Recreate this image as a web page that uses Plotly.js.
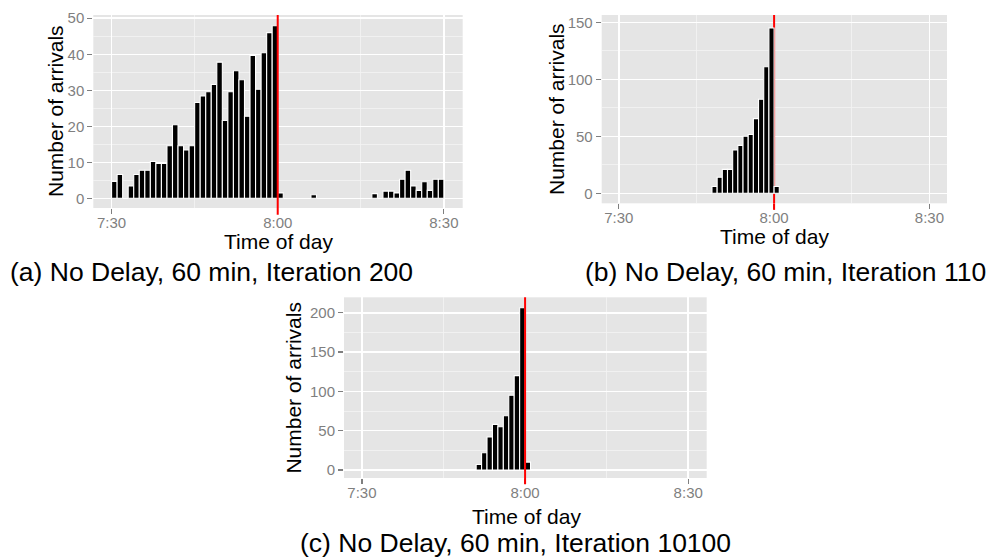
<!DOCTYPE html>
<html><head><meta charset="utf-8">
<script src="https://cdn.plot.ly/plotly-3.0.1.min.js"></script>
<style>html,body{margin:0;padding:0;background:#fff}#chart{width:993px;height:558px}</style>
</head><body><div id="chart"></div>
<script>
// Bin start, minutes after 7:30 (1-minute bins)
const binsA = [0,1,3,4,5,6,7,8,9,10,11,12,13,14,15,16,17,18,19,20,21,22,23,24,25,26,27,28,29,30,36,47,49,50,51,52,53,54,55,56,57,58,59];
const countsA = [4.7,6.6,3.4,6.6,7.8,7.8,10.2,9.7,9.7,14.6,20.4,14.6,13.4,14.6,26.6,28.4,29.6,31.6,37.8,21.6,29.6,35.4,32.9,22.8,39.7,30.3,40.4,46,47.9,1.5,1,1.3,2,2,1.5,5.3,7.8,3.4,2.2,4.6,2.2,5.3,5.3];
const binsB = [18,19,20,21,22,23,24,25,26,27,28,29,30];
const countsB = [6,14,21,21,38,42,50,51.5,65.5,82.5,111,145,6];
const binsC = [21,22,23,24,25,26,27,28,29,30];
const countsC = [7,22,42,58,55,69,95,120,206.5,10];
const tickMinutes = [0,30,60];
const tickLabels = ['7:30','8:00','8:30'];
const minorMinutes = [15,45];
const deadline = 30; // 8:00
const captions = ['(a) No Delay, 60 min, Iteration 200','(b) No Delay, 60 min, Iteration 110','(c) No Delay, 60 min, Iteration 10100'];
const xTitle = 'Time of day';
const yTitle = 'Number of arrivals';

const W = 993, H = 558;
const FONT = 'Liberation Sans, Arial, sans-serif';
const px = v => v / W, py = v => 1 - v / H;

const rangeA = [-2.7, 50.9], rangeB = [-8.8, 156.4], rangeC = [-10.2, 219.7];

function barTrace(x, y, xa, ya) {
  return {type:'bar', x:x, y:y, xaxis:xa, yaxis:ya, width:1, offset:0,
    marker:{color:'#000', line:{color:'#fff', width:1.1}}, hoverinfo:'skip', showlegend:false};
}
function xAxis(d0, d1, anchor) {
  return {domain:[px(d0), px(d1)], anchor:anchor, range:[-3.3, 63.4],
    tickmode:'array', tickvals:tickMinutes, ticktext:tickLabels,
    ticks:'outside', ticklen:5, tickwidth:1.2, tickcolor:'#7f7f7f', ticklabelstandoff:-4,
    tickfont:{family:FONT, size:15, color:'#7f7f7f'},
    showgrid:true, gridcolor:'#fff', gridwidth:1.5, zeroline:false, showline:false,
    minor:{tickmode:'array', tickvals:minorMinutes, showgrid:true, gridcolor:'#f4f4f4', gridwidth:0.8}};
}
function yAxis(top, bot, anchor, range, dtick) {
  return {domain:[py(bot), py(top)], anchor:anchor, range:range,
    tickmode:'linear', tick0:0, dtick:dtick,
    ticks:'outside', ticklen:5, tickwidth:1.2, tickcolor:'#7f7f7f',
    tickfont:{family:FONT, size:15, color:'#7f7f7f'},
    showgrid:true, gridcolor:'#fff', gridwidth:1.5, zeroline:false, showline:false,
    minor:{dtick:dtick/2, showgrid:true, gridcolor:'#f4f4f4', gridwidth:0.8}};
}
function vline(xa, yd, y0, y1) {
  return {type:'line', xref:xa, yref:yd, x0:deadline, x1:deadline, y0:y0, y1:y1,
    line:{color:'#ff0000', width:2}, layer:'above'};
}
function ann(text, x, y, size, angle) {
  return {text:text, xref:'paper', yref:'paper', x:x, y:y, xanchor:'center', yanchor:'middle',
    showarrow:false, textangle:angle||0, font:{family:FONT, size:size, color:'#000'}};
}

const data = [
  barTrace(binsA, countsA, 'x', 'y'),
  barTrace(binsB, countsB, 'x2', 'y2'),
  barTrace(binsC, countsC, 'x3', 'y3')
];

const layout = {
  width:W, height:H, margin:{l:0,r:0,t:0,b:0},
  paper_bgcolor:'#fff', plot_bgcolor:'#e5e5e5', bargap:0, showlegend:false,
  xaxis: xAxis(93.3, 462.7, 'y'),
  yaxis: yAxis(15, 208, 'x', rangeA, 10),
  xaxis2: xAxis(601.7, 947, 'y2'),
  yaxis2: yAxis(15, 203.3, 'x2', rangeB, 50),
  xaxis3: xAxis(344, 706.7, 'y3'),
  yaxis3: yAxis(297.3, 478, 'x3', rangeC, 50),
  shapes: [
    vline('x','y domain', -0.035, 1),
    // panel (b): the line is hidden behind the bars, visible only above them and at the tick
    {type:'line', xref:'x2', yref:'y2', x0:deadline, x1:deadline, y0:rangeB[0], y1:rangeB[1],
      line:{color:'#ff0000', width:2}, layer:'between'},
    vline('x2','y2 domain', -0.035, 0),
    vline('x3','y3 domain', -0.035, 1)
  ],
  annotations: [
    ann(yTitle, px(55), py(111), 21, -90),
    ann(yTitle, px(556), py(109), 21, -90),
    ann(yTitle, px(294), py(387.6), 21, -90),
    ann(xTitle, px(278), py(241), 21),
    ann(xTitle, px(774), py(236), 21),
    ann(xTitle, px(526), py(516), 21),
    ann(captions[0], px(211.5), py(272), 26.5),
    ann(captions[1], px(785.5), py(272), 26.5),
    ann(captions[2], px(515), py(543), 26.5)
  ]
};

Plotly.newPlot('chart', data, layout, {staticPlot:true, displayModeBar:false});
</script></body></html>
